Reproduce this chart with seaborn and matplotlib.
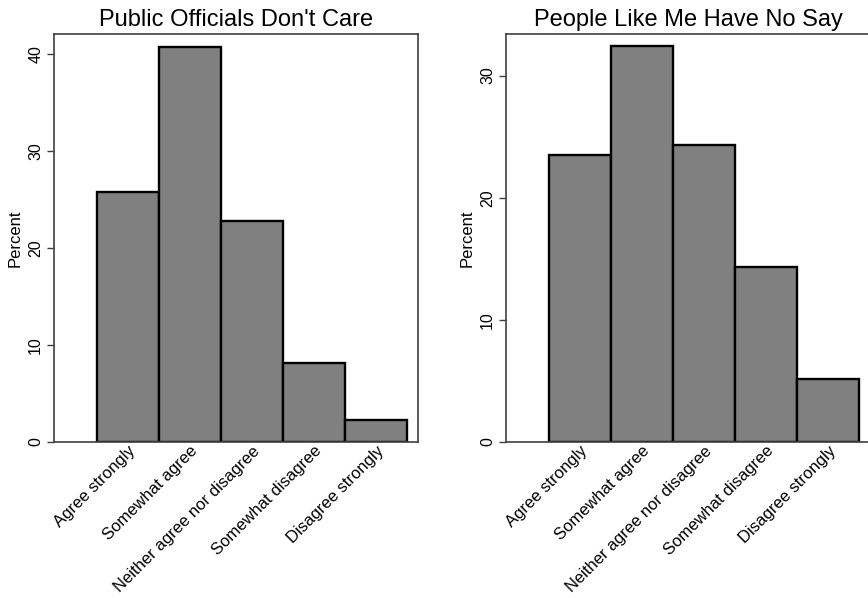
import matplotlib
matplotlib.use("Agg")
import matplotlib.pyplot as plt
import seaborn as sns
import pandas as pd

categories = ["Agree strongly", "Somewhat agree", "Neither agree nor disagree",
              "Somewhat disagree", "Disagree strongly"]
officials_pct = [25.8, 40.8, 22.8, 8.15, 2.24]
nosay_pct = [23.5, 32.4, 24.3, 14.3, 5.15]
titles = ["Public Officials Don't Care", "People Like Me Have No Say"]
left_ticks = [0, 10, 20, 30, 40]
right_ticks = [0, 10, 20, 30]

sns.set_theme(style="white")
plt.rcParams["font.family"] = ["Liberation Sans", "DejaVu Sans"]
plt.rcParams["text.color"] = "black"
plt.rcParams["axes.labelcolor"] = "black"
plt.rcParams["xtick.color"] = "black"
plt.rcParams["ytick.color"] = "black"

fig = plt.figure(figsize=(8.68, 5.98), dpi=100)
ax1 = fig.add_axes([0.0626, 0.261, 0.419, 0.682])
ax2 = fig.add_axes([0.5833, 0.261, 0.419, 0.682])

panels = [(ax1, officials_pct, titles[0], left_ticks, 42.1),
          (ax2, nosay_pct, titles[1], right_ticks, 33.4)]

for ax, vals, title, ticks, ytop in panels:
    df = pd.DataFrame({"cat": categories, "pct": vals})
    sns.barplot(data=df, x="cat", y="pct", ax=ax, color="#808080", saturation=1,
                edgecolor="black", linewidth=1.7, width=1.0)
    ax.set_xlim(-1.18, 4.67)
    ax.set_ylim(0, ytop)
    ax.set_yticks(ticks)
    ax.set_yticklabels([str(t) for t in ticks], rotation=90, va="center",
                       fontsize=11.5, color="black")
    ax.tick_params(axis="y", which="major", direction="out", length=5, width=1,
                   color="#404040", left=True, pad=3)
    ax.tick_params(axis="x", length=0, pad=1)
    ax.set_xticks(range(len(categories)))
    ax.set_xticklabels(categories, rotation=45, ha="right", va="top",
                       rotation_mode="anchor", fontsize=12, color="black")
    ax.set_xlabel("")
    ax.set_ylabel("Percent", fontsize=12, labelpad=4, color="black")
    ax.set_title(title, fontsize=17, pad=6, color="black")
    for s in ax.spines.values():
        s.set_color("#404040")
        s.set_linewidth(1.2)
        s.set_visible(True)

fig.savefig("out.png", dpi=100, facecolor="white")
